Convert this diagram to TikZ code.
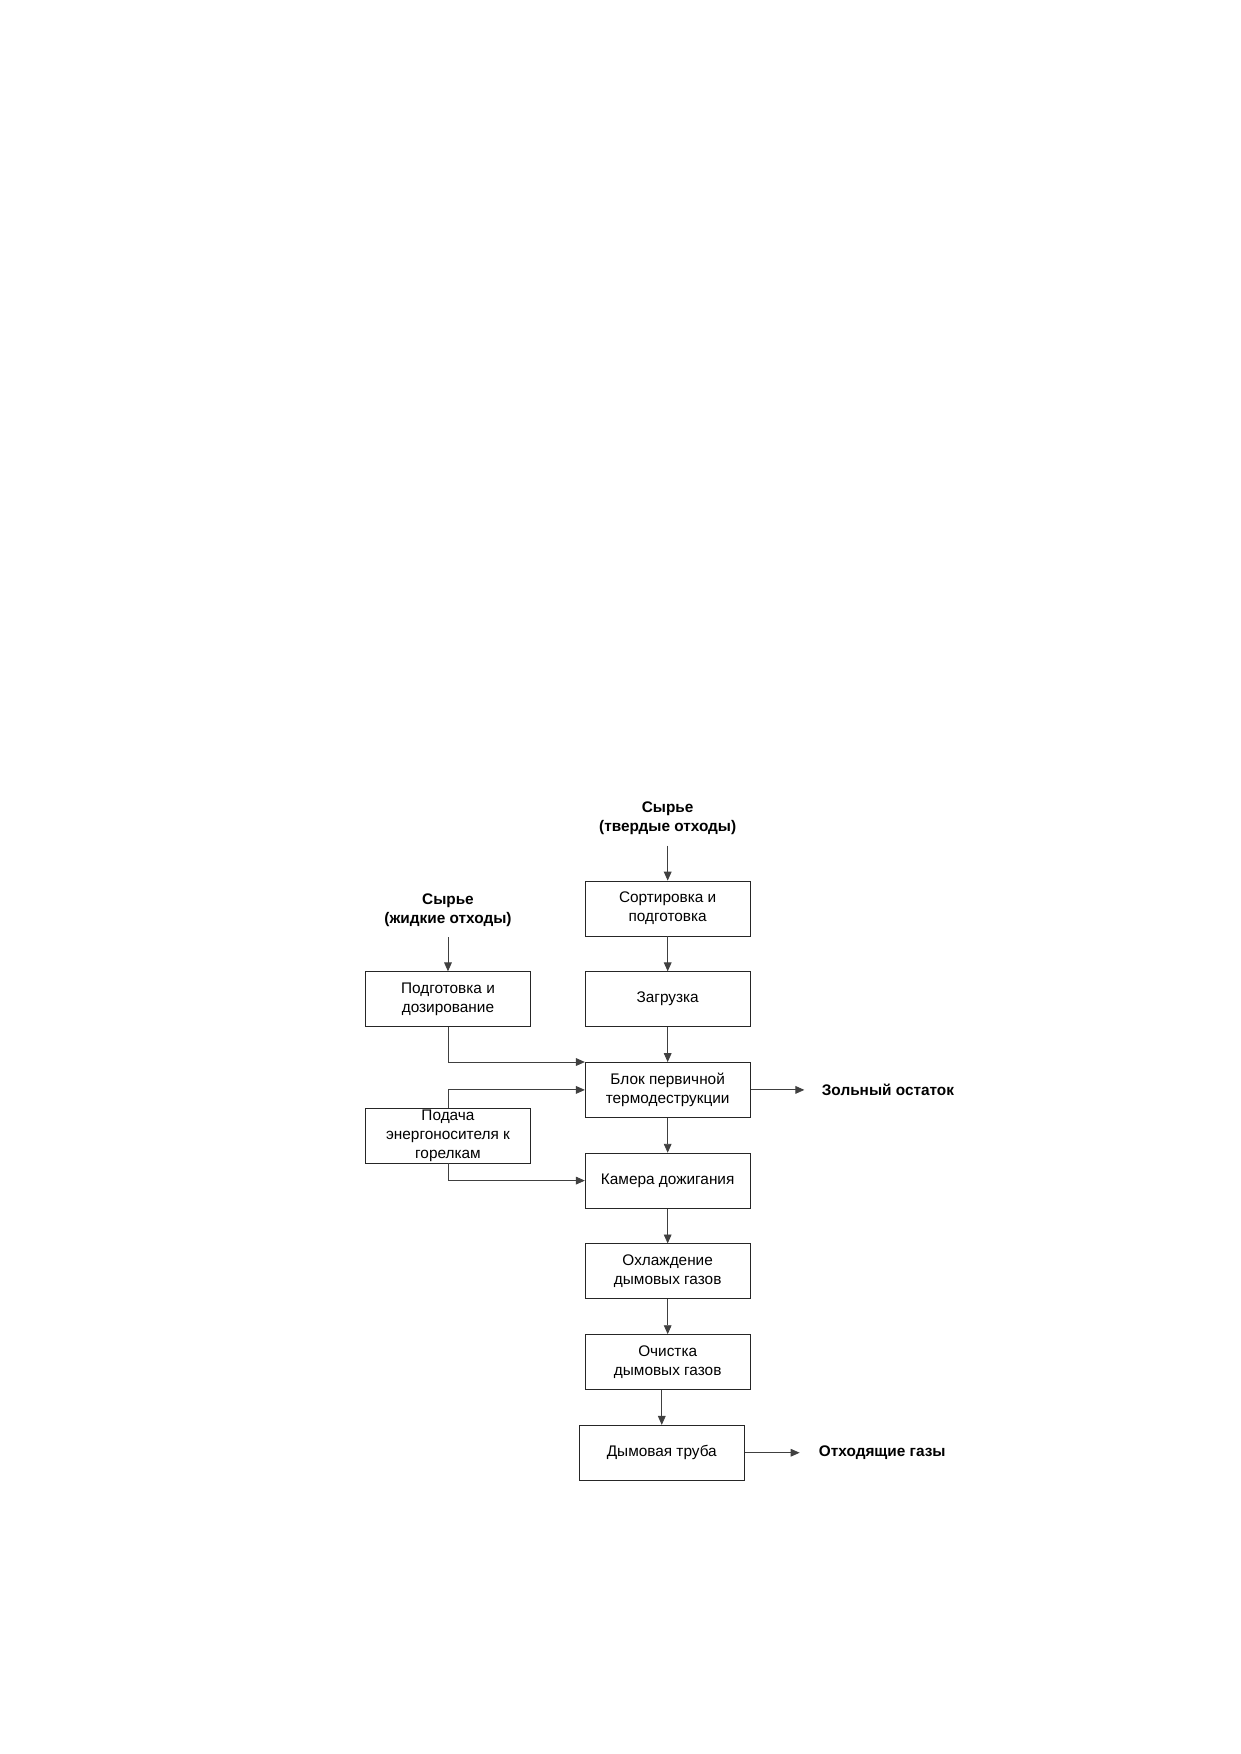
\documentclass[tikz,border=0pt]{standalone}
\usepackage{fontspec}
\setmainfont{Liberation Sans}
\usepackage{tikz}
\usetikzlibrary{positioning, arrows.meta}

\newcommand{\diagfont}{\fontsize{7.4}{9.1}\selectfont}

\tikzset{
  box/.style={draw=black!85, minimum width=27.9mm, minimum height=9.3mm, align=center, inner sep=1pt},
  inlabel/.style={align=center, font=\diagfont\bfseries, inner sep=0pt},
  outlabel/.style={anchor=west, font=\diagfont\bfseries, inner sep=0pt},
  flow/.style={draw=black!75, -{Triangle[length=1.5mm, width=1.3mm]}}
}

\begin{document}
\begin{tikzpicture}[node distance=15.35mm, on grid, font=\diagfont]
  \useasboundingbox (-112.99mm,-143.08mm) rectangle (97.01mm,153.74mm);

  % main line
  \node[box] (sort) {Сортировка и\\подготовка};
  \node[box] (load) [below=of sort] {Загрузка};
  \node[box] (block) [below=of load] {Блок первичной\\термодеструкции};
  \node[box] (chamber) [below=of block] {Камера дожигания};
  \node[box] (cool) [below=of chamber] {Охлаждение\\дымовых газов};
  \node[box] (clean) [below=of cool] {Очистка\\дымовых газов};
  \node[box] (stack) [below=of clean, xshift=-1mm] {Дымовая труба};

  % side line
  \node[box] (prep) [left=37.18mm of load] {Подготовка и\\дозирование};
  \node[box, inner ysep=0pt] (fuel) [below=23.06mm of prep] {Подача\\энергоносителя к\\горелкам};

  % inputs and outputs
  \node[inlabel] (solid) [above=15.3mm of sort] {Сырье\\(твердые отходы)};
  \node[inlabel] (liquid) [above=15.1mm of prep] {Сырье\\(жидкие отходы)};
  \node[outlabel] (ash) at ([xshift=12mm]block.east) {Зольный остаток};
  \node[outlabel] (gas) at ([xshift=12.5mm]stack.east) {Отходящие газы};

  \draw[flow] ([yshift=-1.8mm]solid.south) -- (sort);
  \draw[flow] ([yshift=-1.8mm]liquid.south) -- (prep);
  \draw[flow] (sort) -- (load);
  \draw[flow] (load) -- (block);
  \draw[flow] (block) -- (chamber);
  \draw[flow] (chamber) -- (cool);
  \draw[flow] (cool) -- (clean);
  \draw[flow] (clean.south -| stack.north) -- (stack);
  \draw[flow] (prep.south) |- (block.north west);
  \draw[flow] (fuel.north) |- (block.west);
  \draw[flow] (fuel.south) |- (chamber.west);
  \draw[flow, shorten >=2.9mm] (block.east) -- (ash.west);
  \draw[flow, shorten >=3.2mm] (stack.east) -- (gas.west);
\end{tikzpicture}
\end{document}
